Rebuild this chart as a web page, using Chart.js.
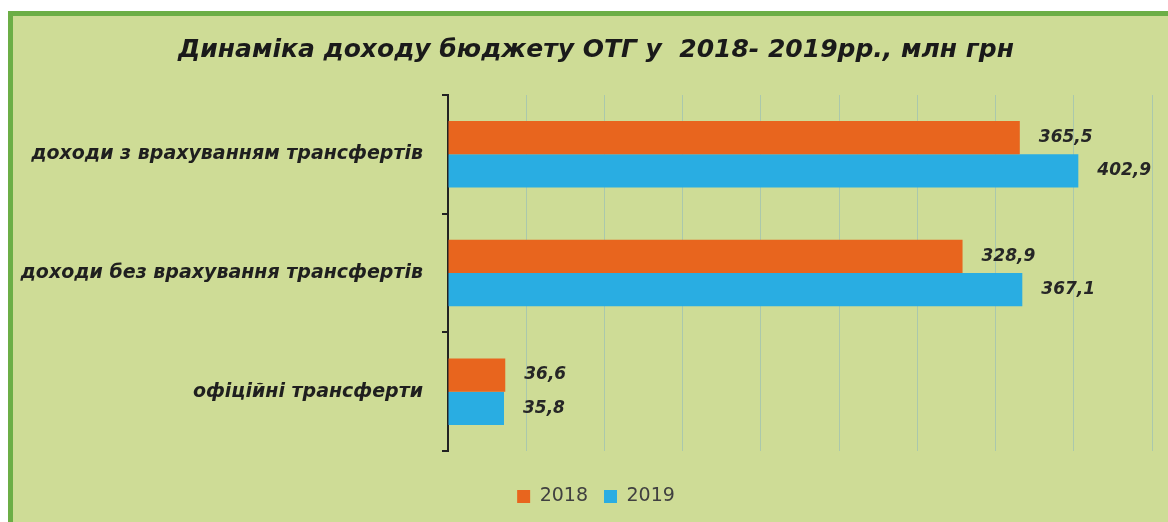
<!DOCTYPE html>
<html lang="uk">
<head>
<meta charset="utf-8">
<title>Динаміка доходу бюджету ОТГ</title>
<script src="https://cdn.jsdelivr.net/npm/chart.js@4.4.1/dist/chart.umd.min.js"></script>
<style>
    html, body { margin: 0; padding: 0; background: #ffffff; overflow: hidden; }
    body { width: 1168px; height: 522px; position: relative; overflow: hidden; }
    #frame {
        position: absolute;
        left: 8px;
        top: 11px;
        width: 1166px;
        height: 520px;
        border-left: 5px solid #6cae46;
        border-top: 5px solid #6cae46;
        background: #cedc96;
    }
    /* canvas is a bit wider than the window so title and legend sit slightly right of centre */
    #chartBox { position: relative; width: 1166px; height: 500px; }
</style>
</head>
<body>
<div id="frame">
    <div id="chartBox"><canvas id="budgetChart"></canvas></div>
</div>
<script>
    // Chart data
    const categories = [
        'доходи з врахуванням трансфертів',
        'доходи без врахування трансфертів',
        'офіційні трансферти'
    ];
    const seriesNames = ['2018', '2019'];
    const values2018 = [365.5, 328.9, 36.6];
    const values2019 = [402.9, 367.1, 35.8];
    const axisMax = 450;
    const axisStep = 50;

    const chartTitle = 'Динаміка доходу бюджету ОТГ у  2018- 2019рр., млн грн';

    // Draw value labels to the right of each bar
    const valueLabels = {
        id: 'valueLabels',
        afterDatasetsDraw(chart) {
            const ctx = chart.ctx;
            ctx.save();
            ctx.font = 'italic bold 17px "DejaVu Sans"';
            ctx.fillStyle = '#262626';
            ctx.textAlign = 'left';
            ctx.textBaseline = 'middle';
            chart.data.datasets.forEach((ds, i) => {
                const meta = chart.getDatasetMeta(i);
                meta.data.forEach((bar, j) => {
                    const txt = ds.data[j].toFixed(1).replace('.', ',');
                    ctx.fillText(txt, bar.x + 19, bar.y);
                });
            });
            ctx.restore();
        }
    };

    // Long category names run into the left padding; let them draw there
    const wideLabels = {
        id: 'wideLabels',
        afterLayout(chart) {
            chart.scales.y.left = 0;
        }
    };

    const ctx = document.getElementById('budgetChart').getContext('2d');
    const budgetChart = new Chart(ctx, {
        type: 'bar',
        data: {
            labels: categories,
            datasets: [
                {
                    label: seriesNames[0],
                    data: values2018,
                    backgroundColor: '#e8651e',
                    borderWidth: 0
                },
                {
                    label: seriesNames[1],
                    data: values2019,
                    backgroundColor: '#29ade2',
                    borderWidth: 0
                }
            ]
        },
        options: {
            indexAxis: 'y',
            responsive: true,
            maintainAspectRatio: false,
            animation: false,
            categoryPercentage: 0.56,
            barPercentage: 1.0,
            layout: {
                padding: { left: 27, right: 27, top: 0, bottom: 0 }
            },
            scales: {
                x: {
                    min: 0,
                    max: axisMax,
                    ticks: { display: false, stepSize: axisStep },
                    border: { display: false },
                    grid: {
                        color: '#aac8ac',
                        lineWidth: 1,
                        drawTicks: true,
                        tickLength: 20,
                        tickColor: 'rgba(0,0,0,0)'
                    }
                },
                y: {
                    afterFit(scale) {
                        scale.width = 408;
                    },
                    ticks: {
                        padding: 19,
                        color: '#1f1f1f',
                        font: { family: '"DejaVu Sans"', size: 19, style: 'italic', weight: 'bold' }
                    },
                    border: { display: true, color: '#222222', width: 2 },
                    grid: {
                        offset: true,
                        drawOnChartArea: false,
                        drawTicks: true,
                        tickLength: 6,
                        tickColor: '#222222',
                        lineWidth: 2
                    }
                }
            },
            plugins: {
                title: {
                    display: true,
                    text: chartTitle,
                    color: '#1a1a1a',
                    font: { family: '"DejaVu Sans"', size: 25, style: 'italic', weight: 'bold', lineHeight: 1.2 },
                    padding: { top: 19, bottom: 30 }
                },
                legend: {
                    display: true,
                    position: 'bottom',
                    labels: {
                        boxWidth: 13,
                        boxHeight: 13,
                        padding: 16,
                        color: '#404040',
                        font: { family: '"DejaVu Sans"', size: 19 }
                    }
                },
                tooltip: { enabled: false }
            }
        },
        plugins: [valueLabels, wideLabels]
    });
</script>
</body>
</html>
